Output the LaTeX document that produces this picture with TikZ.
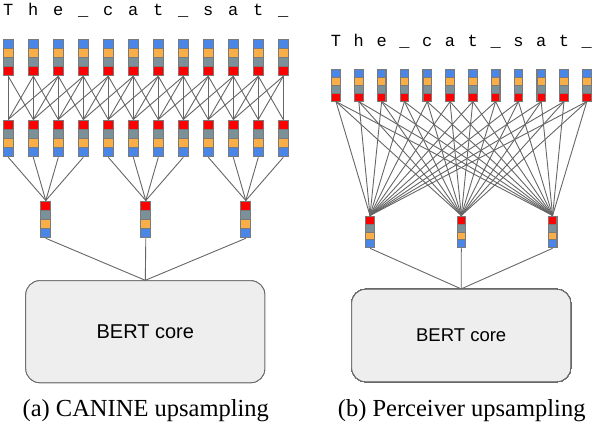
\documentclass[tikz,border=0pt]{standalone}
\usepackage{fontspec}
\setmainfont{Liberation Serif}
\setsansfont{Liberation Sans}
\setmonofont{Liberation Mono}
\usepackage{tikz}
\usetikzlibrary{calc}

\definecolor{cblue}{HTML}{4A86E8}
\definecolor{corange}{HTML}{F9AE48}
\definecolor{cgray}{HTML}{7C909A}
\definecolor{cred}{HTML}{FF0000}
\definecolor{linegray}{HTML}{666666}
\definecolor{framegray}{HTML}{7A7A7A}
\definecolor{boxgray}{HTML}{EEEEEE}

\tikzset{
  cell/.style={rectangle, inner sep=0pt, minimum width=\cellw*1pt, minimum height=\cellh*1pt, draw=framegray, line width=0.8pt},
  colframe/.style={rectangle, inner sep=0pt, minimum width=\cellw*1pt, minimum height=4*\cellh*1pt, draw=framegray, line width=1pt},
  link/.style={draw=linegray, line width=0.9pt},
  letter/.style={font=\ttfamily\fontsize{17}{17}\selectfont, inner sep=0pt, anchor=base},
  bert/.style={rectangle, rounded corners=14pt, draw=linegray, fill=boxgray, line width=0.8pt, font=\sffamily},
  caption/.style={font=\fontsize{24.5}{28}\selectfont, inner sep=0pt, anchor=base}
}

% one token vector: name, x, top y, colours from top to bottom
\newcommand{\tokcol}[4]{%
  \foreach \c [count=\k from 0] in {#4}
    \node[cell, fill=\c] (#1-\k) at (#2, #3+\cellh*\k+\cellh/2) {};
  \node[colframe] (#1) at (#2, #3+2*\cellh) {};
}

\begin{document}
\begin{tikzpicture}[x=1pt, y=-1pt]
    \useasboundingbox (0,0) rectangle (596,424);

    % (a) CANINE upsampling
    \def\cellw{10}\def\cellh{9.2}
    \foreach \ch [count=\i from 0] in {T,h,e,\_,c,a,t,\_,s,a,t,\_}
        \node[letter] (la\i) at (8.3+25*\i, 15) {\ch};
    \foreach \i in {0,...,11} {
        \tokcol{t\i}{8.3+25*\i}{39}{cblue,corange,cgray,cred}
        \tokcol{m\i}{8.3+25*\i}{120}{cred,cgray,corange,cblue}
    }
    \foreach \g in {0,1,2}
        \tokcol{d\g}{45.8+100*\g}{201}{cred,cgray,corange,cblue}
    \node[bert, minimum width=239pt, minimum height=102pt, font=\sffamily\fontsize{20}{24}\selectfont] (berta) at (145.3,331.7) {BERT core};

    \foreach \i in {0,...,11}
        \foreach \d in {-2,...,1} {
            \pgfmathtruncatemacro\j{\i+\d}
            \ifnum\j>-1 \ifnum\j<12 \draw[link] (t\i.south) -- (m\j.north); \fi\fi
        }
    \foreach \j in {0,...,11} {
        \pgfmathtruncatemacro\g{div(\j,4)}
        \draw[link] (m\j.south) -- (d\g.north);
    }
    \foreach \g in {0,1,2}
        \draw[link] (d\g.south) -- (berta.north);

    \node[caption] (capa) at (145.8,416.7) {(a) CANINE upsampling};

    % (b) Perceiver upsampling
    \def\cellw{8.6}\def\cellh{7.95}
    \foreach \ch [count=\i from 0] in {T,h,e,\_,c,a,t,\_,s,a,t,\_}
        \node[letter] (lb\i) at (336+22.8*\i, 46.5) {\ch};
    \foreach \i in {0,...,11}
        \tokcol{p\i}{336+22.8*\i}{69.3}{cblue,corange,cgray,cred}
    \foreach \g in {0,1,2}
        \tokcol{q\g}{370+91.3*\g}{216}{cred,cgray,corange,cblue}
    \node[bert, minimum width=219pt, minimum height=92.4pt, font=\sffamily\fontsize{18.5}{22}\selectfont] (bertb) at (461.2,335.5) {BERT core};

    \foreach \i in {0,...,11}
        \foreach \g in {0,1,2}
            \draw[link] (p\i.south) -- (q\g.north);
    \foreach \g in {0,1,2}
        \draw[link] (q\g.south) -- (bertb.north);

    \node[caption] (capb) at (461.7,416.7) {(b) Perceiver upsampling};
\end{tikzpicture}
\end{document}
